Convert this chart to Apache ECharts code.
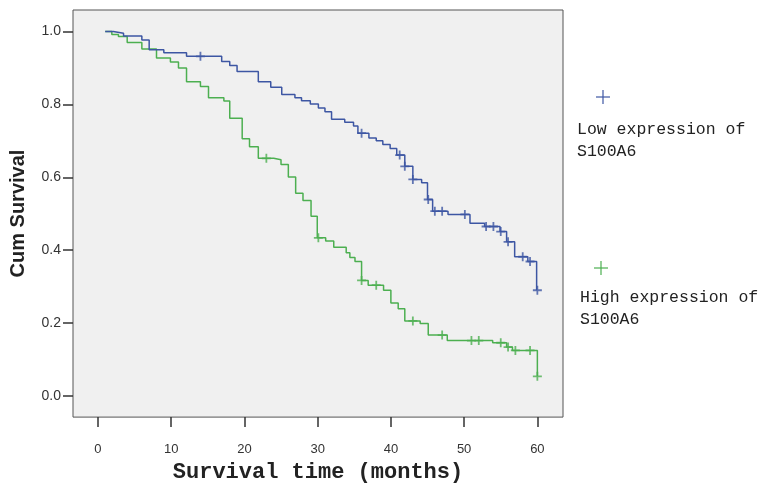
<!DOCTYPE html>
<html>
<head>
<meta charset="utf-8">
<script src="https://cdn.jsdelivr.net/npm/echarts@6/dist/echarts.min.js"></script>
<style>
  html, body { margin: 0; padding: 0; background: #fff; }
  #chart { width: 758px; height: 488px; }
</style>
</head>
<body>
<div id="chart"></div>
<script>
// Kaplan-Meier steps: time (months) of each drop and survival after it
var lowTime = [1, 2.1, 3.5, 6.0, 7.0, 9.0, 12.1, 16.9, 18.0, 19.0, 21.9, 23.6, 25.1, 26.9, 27.8, 29.0, 30.1, 31.0, 31.9, 33.7, 34.9, 35.5, 37.0, 38.0, 38.9, 39.9, 40.8, 41.9, 43.0, 44.2, 45.0, 45.7, 47.8, 50.8, 52.8, 54.9, 55.8, 56.9, 58.7, 59.9];
var lowSurv = [1.0, 0.995, 0.988, 0.977, 0.95, 0.942, 0.932, 0.918, 0.907, 0.89, 0.862, 0.847, 0.827, 0.818, 0.81, 0.801, 0.79, 0.78, 0.759, 0.751, 0.741, 0.721, 0.708, 0.70, 0.69, 0.679, 0.661, 0.63, 0.594, 0.585, 0.539, 0.507, 0.498, 0.474, 0.465, 0.451, 0.423, 0.382, 0.369, 0.29];

var highTime = [1, 1.9, 2.8, 4.0, 6.0, 8.0, 9.9, 11.0, 12.1, 14.0, 15.1, 17.2, 18.0, 19.7, 20.7, 21.9, 24.0, 25.0, 26.0, 27.0, 28.0, 29.1, 29.95, 31.1, 32.2, 33.9, 34.4, 35.1, 36.0, 36.9, 39.0, 40.0, 41.0, 41.9, 44.0, 45.1, 47.7, 53.9, 55.8, 56.6, 60.0];
var highSurv = [1.0, 0.992, 0.986, 0.97, 0.952, 0.927, 0.916, 0.9, 0.862, 0.849, 0.818, 0.809, 0.762, 0.706, 0.684, 0.652, 0.648, 0.635, 0.601, 0.556, 0.536, 0.493, 0.434, 0.425, 0.408, 0.393, 0.38, 0.369, 0.317, 0.304, 0.29, 0.255, 0.239, 0.206, 0.199, 0.167, 0.152, 0.146, 0.134, 0.125, 0.054];

// censored observations
var lowCensorTime = [14, 36, 41.2, 41.9, 43, 45.1, 46, 47, 50.1, 53, 54, 55, 56, 58, 59, 60];
var lowCensorSurv = [0.932, 0.721, 0.661, 0.63, 0.594, 0.539, 0.507, 0.507, 0.498, 0.465, 0.465, 0.451, 0.423, 0.382, 0.369, 0.29];
var highCensorTime = [23, 30.1, 36, 38, 43, 47, 51, 52, 55, 56, 57, 59, 60];
var highCensorSurv = [0.652, 0.434, 0.317, 0.304, 0.206, 0.167, 0.152, 0.152, 0.146, 0.134, 0.125, 0.125, 0.054];

var xTicks = [0, 10, 20, 30, 40, 50, 60];
var yTicks = [0, 0.2, 0.4, 0.6, 0.8, 1.0];
var groupNames = ['Low expression of\nS100A6', 'High expression of\nS100A6'];

var blue = '#3d56a3';
var green = '#4caf50';
var plus = 'path://M4,0h2v4h4v2h-4v4h-2v-4h-4v-2h4z';

function pairs(xs, ys) {
    return xs.map(function (x, i) { return [x, ys[i]]; });
}

var myChart = echarts.init(document.getElementById('chart'));

var option = {
    backgroundColor: '#fff',
    animation: false,
    grid: {
        left: 73, right: 195, top: 10, bottom: 61,
        show: true,
        backgroundColor: '#f0f0f0',
        borderColor: '#555',
        borderWidth: 1
    },
    xAxis: {
        type: 'value',
        min: -3.4,
        max: 63.5,
        name: 'Survival time (months)',
        nameLocation: 'middle',
        nameGap: 43,
        nameTextStyle: { fontFamily: 'Liberation Mono', fontWeight: 'bold', fontSize: 22, color: '#222' },
        axisLine: { show: false, onZero: false },
        splitLine: { show: false },
        axisTick: { show: true, inside: false, length: 10, customValues: xTicks, lineStyle: { color: '#333', width: 1.5 } },
        axisLabel: { customValues: xTicks, margin: 26, fontFamily: 'Liberation Sans', fontSize: 13, color: '#333' }
    },
    yAxis: {
        type: 'value',
        min: -0.058,
        max: 1.059,
        name: 'Cum Survival',
        nameLocation: 'middle',
        nameGap: 45,
        nameTextStyle: { fontFamily: 'Liberation Sans', fontWeight: 'bold', fontSize: 20, color: '#222' },
        axisLine: { show: false, onZero: false },
        splitLine: { show: false },
        axisTick: { show: true, inside: false, length: 10, customValues: yTicks, lineStyle: { color: '#333', width: 1.5 } },
        axisLabel: {
            customValues: yTicks, margin: 12, fontFamily: 'Liberation Sans', fontSize: 14, color: '#333',
            formatter: function (v) { return v.toFixed(1); }
        }
    },
    graphic: [
        { type: 'line', shape: { x1: 596, y1: 97, x2: 610, y2: 97 }, style: { stroke: blue, lineWidth: 1.2 } },
        { type: 'line', shape: { x1: 603, y1: 90, x2: 603, y2: 104 }, style: { stroke: blue, lineWidth: 1.2 } },
        {
            type: 'text', left: 577, top: 119,
            style: { text: groupNames[0], font: '16.5px "Liberation Mono"', fill: '#222', lineHeight: 22 }
        },
        { type: 'line', shape: { x1: 594, y1: 268, x2: 608, y2: 268 }, style: { stroke: green, lineWidth: 1.2 } },
        { type: 'line', shape: { x1: 601, y1: 261, x2: 601, y2: 275 }, style: { stroke: green, lineWidth: 1.2 } },
        {
            type: 'text', left: 580, top: 287,
            style: { text: groupNames[1], font: '16.5px "Liberation Mono"', fill: '#222', lineHeight: 22 }
        }
    ],
    series: [
        {
            name: 'High',
            type: 'line',
            step: 'end',
            showSymbol: false,
            lineStyle: { color: green, width: 1.5 },
            data: pairs(highTime, highSurv)
        },
        {
            name: 'Low',
            type: 'line',
            step: 'end',
            showSymbol: false,
            lineStyle: { color: blue, width: 1.5 },
            data: pairs(lowTime, lowSurv)
        },
        {
            name: 'High censored',
            type: 'scatter',
            symbol: plus,
            symbolSize: 9,
            itemStyle: { color: green },
            data: pairs(highCensorTime, highCensorSurv)
        },
        {
            name: 'Low censored',
            type: 'scatter',
            symbol: plus,
            symbolSize: 9,
            itemStyle: { color: blue },
            data: pairs(lowCensorTime, lowCensorSurv)
        }
    ]
};
myChart.setOption(option);
</script>
</body>
</html>
